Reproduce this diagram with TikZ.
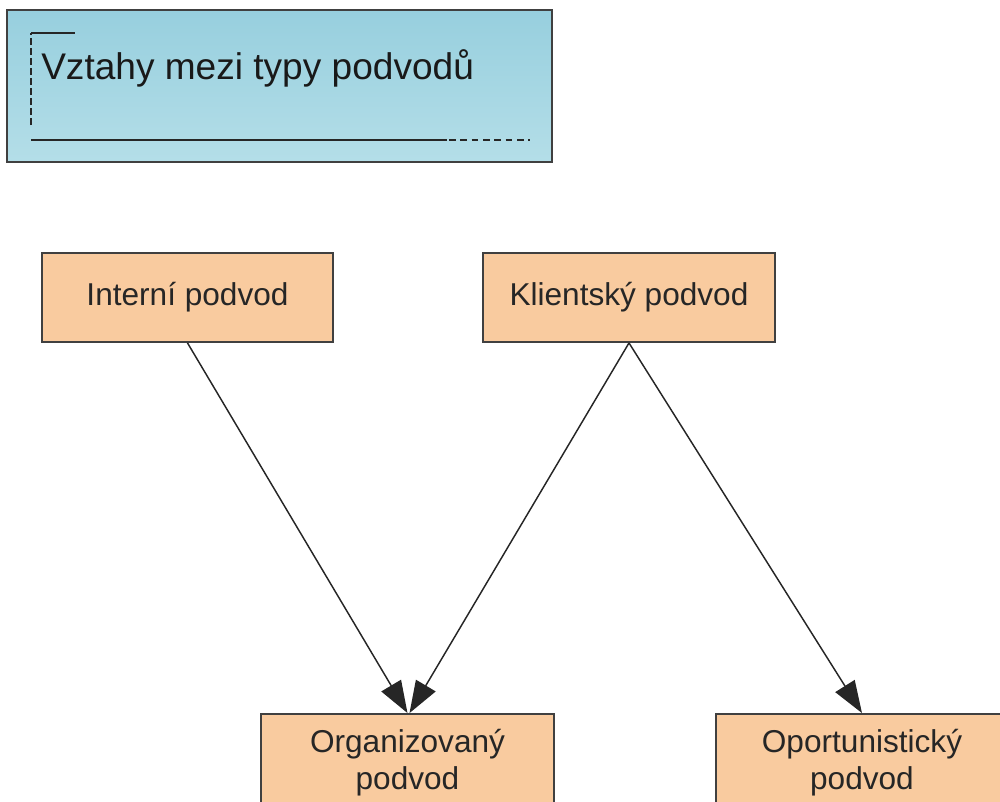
\documentclass[tikz,border=0pt]{standalone}
\usepackage{fontspec}
\setmainfont{Liberation Sans}
\usetikzlibrary{arrows.meta,calc}
\definecolor{peach}{HTML}{F9CB9F}
\definecolor{titletop}{HTML}{97CFDE}
\definecolor{titlebot}{HTML}{B4DEE8}
\definecolor{frame}{HTML}{404040}
\newcommand{\twolines}[2]{\raisebox{16.5pt}[0pt][0pt]{\begin{tabular}[t]{@{}c@{}}#1\\#2\end{tabular}}}
\begin{document}
\begin{tikzpicture}[x=0.75pt,y=-0.75pt,
  fraud/.style={draw=frame, line width=1.4pt, fill=peach, inner sep=0pt,
    font=\fontsize{23.7}{27.75}\selectfont, align=center, text=black!85},
  titlebox/.style={draw=frame, line width=1.5pt, top color=titletop, bottom color=titlebot,
    inner sep=0pt, minimum width=408.75pt, minimum height=114pt},
  deco/.style={line width=1.2pt, black!85},
  arr/.style={draw=black!85, line width=1.1pt, -{Triangle[length=24pt,width=17pt]}}
]
\clip (0,0) rectangle (1000,801);
\useasboundingbox (0,0) rectangle (1000,801);

% title box
\node[titlebox] (title) at (279.5,86) {};
\node[anchor=base west, inner sep=0pt, font=\fontsize{27.8}{32}\selectfont, text=black!90] (titletext) at (41,79) {Vztahy mezi typy podvodů};
\draw[deco, dash pattern=on 5pt off 2.5pt] (31,125) -- (31,33);
\draw[deco] (31,33) -- (75,33);
\draw[deco] (31,140) -- (447,140);
\draw[deco, dash pattern=on 5pt off 3.5pt] (449,140) -- (530,140);

% boxes
\node[fraud, minimum width=218.25pt, minimum height=66.75pt] (int) at (187.5,297.5) {Interní podvod};
\node[fraud, minimum width=219pt, minimum height=66.75pt] (kli) at (629,297.5) {Klientský podvod};
\node[fraud, minimum width=219.75pt, minimum height=90pt] (org) at (407.5,774) {\twolines{Organizovaný}{podvod}};
\node[fraud, minimum width=219pt, minimum height=90pt] (opo) at (862,774) {\twolines{Oportunistický}{podvod}};

% connectors
\draw[arr] (int.south) -- (org.north);
\draw[arr] (kli.south) -- ([xshift=1.5pt]org.north);
\draw[arr] (kli.south) -- (opo.north);
\end{tikzpicture}
\end{document}
